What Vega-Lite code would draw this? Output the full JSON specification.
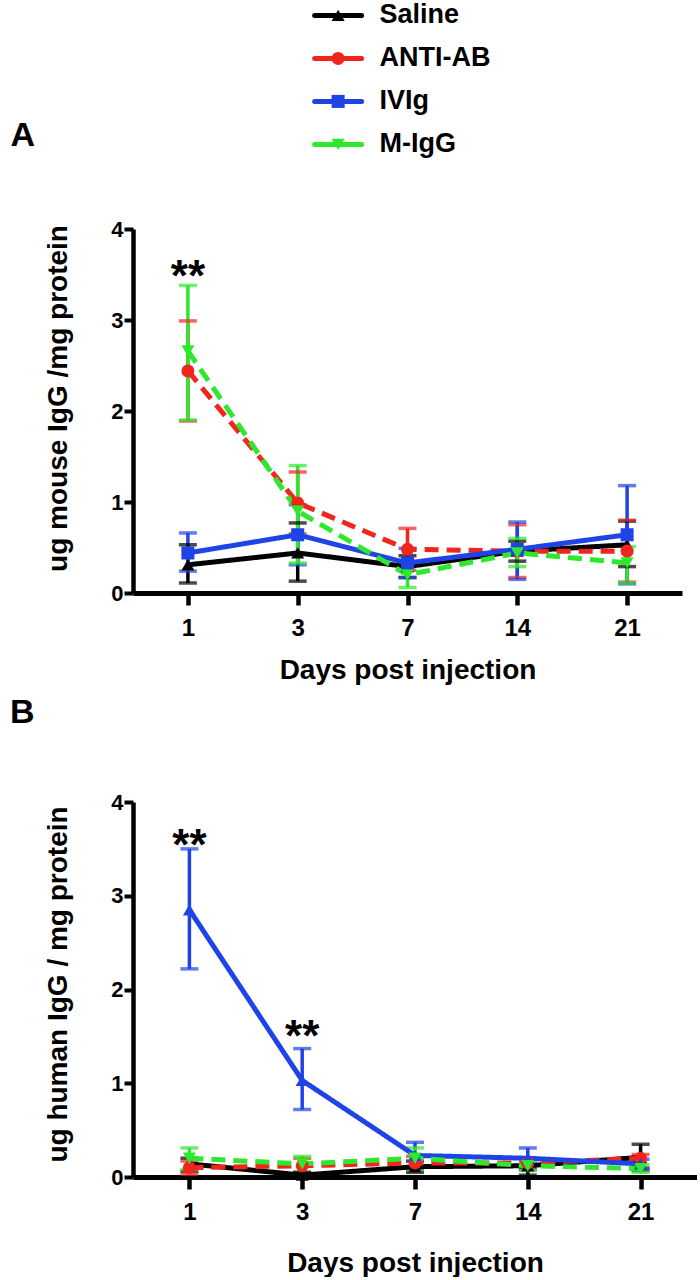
{
  "$schema": "https://vega.github.io/schema/vega-lite/v6.json",
  "padding": {"left": 10, "top": 0, "right": 0, "bottom": 0},
  "spacing": 12,
  "background": "white",
  "datasets": {
    "leg": [
      {"series": "Saline"}, {"series": "ANTI-AB"}, {"series": "IVIg"}, {"series": "M-IgG"}
    ],
    "a": [
      {"day": 1, "series": "Saline", "mean": 0.31, "lo": 0.11, "hi": 0.53},
      {"day": 3, "series": "Saline", "mean": 0.44, "lo": 0.13, "hi": 0.77},
      {"day": 7, "series": "Saline", "mean": 0.29, "lo": 0.17, "hi": 0.41},
      {"day": 14, "series": "Saline", "mean": 0.46, "lo": 0.35, "hi": 0.57},
      {"day": 21, "series": "Saline", "mean": 0.53, "lo": 0.29, "hi": 0.79},
      {"day": 1, "series": "ANTI-AB", "mean": 2.44, "lo": 1.89, "hi": 2.99},
      {"day": 3, "series": "ANTI-AB", "mean": 0.99, "lo": 0.65, "hi": 1.33},
      {"day": 7, "series": "ANTI-AB", "mean": 0.48, "lo": 0.25, "hi": 0.71},
      {"day": 14, "series": "ANTI-AB", "mean": 0.46, "lo": 0.17, "hi": 0.75},
      {"day": 21, "series": "ANTI-AB", "mean": 0.46, "lo": 0.12, "hi": 0.8},
      {"day": 1, "series": "IVIg", "mean": 0.44, "lo": 0.24, "hi": 0.66},
      {"day": 3, "series": "IVIg", "mean": 0.64, "lo": 0.31, "hi": 0.97},
      {"day": 7, "series": "IVIg", "mean": 0.33, "lo": 0.17, "hi": 0.49},
      {"day": 14, "series": "IVIg", "mean": 0.48, "lo": 0.15, "hi": 0.78},
      {"day": 21, "series": "IVIg", "mean": 0.64, "lo": 0.1, "hi": 1.18},
      {"day": 1, "series": "M-IgG", "mean": 2.66, "lo": 1.9, "hi": 3.38},
      {"day": 3, "series": "M-IgG", "mean": 0.9, "lo": 0.33, "hi": 1.4},
      {"day": 7, "series": "M-IgG", "mean": 0.2, "lo": 0.06, "hi": 0.35},
      {"day": 14, "series": "M-IgG", "mean": 0.44, "lo": 0.29, "hi": 0.6},
      {"day": 21, "series": "M-IgG", "mean": 0.33, "lo": 0.11, "hi": 0.51}
    ],
    "b": [
      {"day": 1, "series": "Saline", "mean": 0.14, "lo": 0.06, "hi": 0.2},
      {"day": 3, "series": "Saline", "mean": 0.02, "lo": 0.0, "hi": 0.05},
      {"day": 7, "series": "Saline", "mean": 0.11, "lo": 0.05, "hi": 0.17},
      {"day": 14, "series": "Saline", "mean": 0.12, "lo": 0.02, "hi": 0.2},
      {"day": 21, "series": "Saline", "mean": 0.21, "lo": 0.07, "hi": 0.35},
      {"day": 1, "series": "ANTI-AB", "mean": 0.1, "lo": 0.03, "hi": 0.17},
      {"day": 3, "series": "ANTI-AB", "mean": 0.12, "lo": 0.04, "hi": 0.2},
      {"day": 7, "series": "ANTI-AB", "mean": 0.15, "lo": 0.08, "hi": 0.22},
      {"day": 14, "series": "ANTI-AB", "mean": 0.15, "lo": 0.08, "hi": 0.2},
      {"day": 21, "series": "ANTI-AB", "mean": 0.2, "lo": 0.1, "hi": 0.24},
      {"day": 1, "series": "IVIg", "mean": 2.85, "lo": 2.22, "hi": 3.5},
      {"day": 3, "series": "IVIg", "mean": 1.03, "lo": 0.72, "hi": 1.37},
      {"day": 7, "series": "IVIg", "mean": 0.23, "lo": 0.09, "hi": 0.37},
      {"day": 14, "series": "IVIg", "mean": 0.2, "lo": 0.09, "hi": 0.31},
      {"day": 21, "series": "IVIg", "mean": 0.14, "lo": 0.09, "hi": 0.19},
      {"day": 1, "series": "M-IgG", "mean": 0.2, "lo": 0.08, "hi": 0.31},
      {"day": 3, "series": "M-IgG", "mean": 0.14, "lo": 0.05, "hi": 0.22},
      {"day": 7, "series": "M-IgG", "mean": 0.2, "lo": 0.08, "hi": 0.31},
      {"day": 14, "series": "M-IgG", "mean": 0.12, "lo": 0.07, "hi": 0.17},
      {"day": 21, "series": "M-IgG", "mean": 0.09, "lo": 0.05, "hi": 0.13}
    ],
    "starsA": [{"day": 1, "value": 3.32, "label": "**"}],
    "starsB": [{"day": 1, "value": 3.38, "label": "**"}, {"day": 3, "value": 1.34, "label": "**"}]
  },
  "resolve": {"scale": {"x": "independent", "y": "independent", "shape": "independent"}},
  "vconcat": [
    {
      "width": 549,
      "height": 206,
      "data": {"name": "leg"},
      "encoding": {
        "y": {
          "field": "series", "type": "nominal", "sort": null,
          "scale": {"type": "point", "padding": 0.895, "align": 0.2},
          "axis": {
            "title": "A", "domain": false, "ticks": false, "labels": false,
            "titleAngle": 0, "titleX": -123, "titleY": 145, "titleAlign": "left",
            "titleBaseline": "alphabetic", "titleFontSize": 34, "titleAnchor": null
          }
        }
      },
      "layer": [
        {
          "mark": {"type": "rule", "strokeWidth": 5, "strokeCap": "round"},
          "encoding": {
            "x": {"datum": 182, "type": "quantitative", "scale": {"domain": [0, 549]}, "axis": null},
            "x2": {"datum": 229},
            "color": {"field": "series", "type": "nominal", "scale": {"domain": ["Saline", "ANTI-AB", "IVIg", "M-IgG"], "range": ["#000000", "#f0261e", "#1f44e6", "#2de82d"]}}
          }
        },
        {
          "mark": {"type": "point", "filled": true, "opacity": 1, "size": 170},
          "encoding": {
            "x": {"datum": 205.5, "type": "quantitative"},
            "color": {"field": "series", "type": "nominal"},
            "shape": {"field": "series", "type": "nominal", "scale": {"domain": ["Saline", "ANTI-AB", "IVIg", "M-IgG"], "range": ["triangle-up", "circle", "square", "triangle-down"]}}
          }
        },
        {
          "mark": {"type": "text", "align": "left", "baseline": "middle", "fontSize": 27, "fontWeight": "bold", "color": "black"},
          "encoding": {
            "x": {"datum": 247, "type": "quantitative"},
            "text": {"field": "series"}
          }
        }
      ]
    },
    {
      "width": 549,
      "height": 364,
      "data": {"name": "a"},
      "encoding": {
        "x": {"field": "day", "type": "ordinal", "scale": {"type": "point", "padding": 0.5}, "axis": {"title": "Days post injection"}}
      },
      "layer": [
        {
          "mark": {"type": "rule", "strokeWidth": 3.5},
          "encoding": {
            "y": {"field": "lo", "type": "quantitative", "scale": {"domain": [0, 4]}, "axis": {"title": "ug mouse IgG /mg protein", "titleY": 169, "values": [0, 1, 2, 3, 4]}},
            "y2": {"field": "hi"},
            "color": {"field": "series", "type": "nominal"}
          }
        },
        {
          "mark": {"type": "tick", "thickness": 3.5, "size": 18},
          "encoding": {
            "y": {"field": "lo", "type": "quantitative", "axis": {"title": "ug mouse IgG /mg protein", "titleY": 169, "values": [0, 1, 2, 3, 4]}},
            "color": {"field": "series", "type": "nominal"}
          }
        },
        {
          "mark": {"type": "tick", "thickness": 3.5, "size": 18},
          "encoding": {
            "y": {"field": "hi", "type": "quantitative", "axis": {"title": "ug mouse IgG /mg protein", "titleY": 169, "values": [0, 1, 2, 3, 4]}},
            "color": {"field": "series", "type": "nominal"}
          }
        },
        {
          "mark": {"type": "line", "strokeWidth": 5},
          "encoding": {
            "y": {"field": "mean", "type": "quantitative", "axis": {"title": "ug mouse IgG /mg protein", "titleY": 169, "values": [0, 1, 2, 3, 4]}},
            "color": {"field": "series", "type": "nominal"},
            "strokeDash": {"field": "series", "type": "nominal", "scale": {"domain": ["Saline", "ANTI-AB", "IVIg", "M-IgG"], "range": [[1, 0], [14, 8], [1, 0], [14, 8]]}}
          }
        },
        {
          "mark": {"type": "point", "filled": true, "opacity": 1, "size": 170},
          "encoding": {
            "y": {"field": "mean", "type": "quantitative", "axis": {"title": "ug mouse IgG /mg protein", "titleY": 169, "values": [0, 1, 2, 3, 4]}},
            "color": {"field": "series", "type": "nominal"},
            "shape": {"field": "series", "type": "nominal", "scale": {"domain": ["Saline", "ANTI-AB", "IVIg", "M-IgG"], "range": ["triangle-up", "circle", "square", "triangle-down"]}}
          }
        },
        {
          "data": {"name": "starsA"},
          "mark": {"type": "text", "baseline": "alphabetic", "align": "center", "fontSize": 44, "fontWeight": "bold", "color": "black"},
          "encoding": {
            "y": {"field": "value", "type": "quantitative", "axis": {"title": "ug mouse IgG /mg protein", "titleY": 169, "values": [0, 1, 2, 3, 4]}},
            "text": {"field": "label"}
          }
        }
      ]
    },
    {
      "width": 564,
      "height": 375,
      "title": {"text": "B", "anchor": "start", "frame": "group", "dx": -123, "fontSize": 34, "fontWeight": "bold", "baseline": "alphabetic", "offset": 34, "color": "black"},
      "data": {"name": "b"},
      "encoding": {
        "x": {"field": "day", "type": "ordinal", "scale": {"type": "point", "padding": 0.5}, "axis": {"title": "Days post injection", "titlePadding": 25}}
      },
      "layer": [
        {
          "mark": {"type": "rule", "strokeWidth": 3.5},
          "encoding": {
            "y": {"field": "lo", "type": "quantitative", "scale": {"domain": [0, 4]}, "axis": {"title": "ug human IgG / mg protein", "titleY": 182, "values": [0, 1, 2, 3, 4]}},
            "y2": {"field": "hi"},
            "color": {"field": "series", "type": "nominal"}
          }
        },
        {
          "mark": {"type": "tick", "thickness": 3.5, "size": 18},
          "encoding": {
            "y": {"field": "lo", "type": "quantitative", "axis": {"title": "ug human IgG / mg protein", "titleY": 182, "values": [0, 1, 2, 3, 4]}},
            "color": {"field": "series", "type": "nominal"}
          }
        },
        {
          "mark": {"type": "tick", "thickness": 3.5, "size": 18},
          "encoding": {
            "y": {"field": "hi", "type": "quantitative", "axis": {"title": "ug human IgG / mg protein", "titleY": 182, "values": [0, 1, 2, 3, 4]}},
            "color": {"field": "series", "type": "nominal"}
          }
        },
        {
          "mark": {"type": "line", "strokeWidth": 5},
          "encoding": {
            "y": {"field": "mean", "type": "quantitative", "axis": {"title": "ug human IgG / mg protein", "titleY": 182, "values": [0, 1, 2, 3, 4]}},
            "color": {"field": "series", "type": "nominal"},
            "strokeDash": {"field": "series", "type": "nominal", "scale": {"domain": ["Saline", "ANTI-AB", "IVIg", "M-IgG"], "range": [[1, 0], [14, 8], [1, 0], [14, 8]]}}
          }
        },
        {
          "mark": {"type": "point", "filled": true, "opacity": 1, "size": 170},
          "encoding": {
            "y": {"field": "mean", "type": "quantitative", "axis": {"title": "ug human IgG / mg protein", "titleY": 182, "values": [0, 1, 2, 3, 4]}},
            "color": {"field": "series", "type": "nominal"},
            "shape": {"field": "series", "type": "nominal", "scale": {"domain": ["Saline", "ANTI-AB", "IVIg", "M-IgG"], "range": ["triangle-up", "circle", "triangle-up", "triangle-down"]}}
          }
        },
        {
          "data": {"name": "starsB"},
          "mark": {"type": "text", "baseline": "alphabetic", "align": "center", "fontSize": 44, "fontWeight": "bold", "color": "black"},
          "encoding": {
            "y": {"field": "value", "type": "quantitative", "axis": {"title": "ug human IgG / mg protein", "titleY": 182, "values": [0, 1, 2, 3, 4]}},
            "text": {"field": "label"}
          }
        }
      ]
    }
  ],
  "config": {
    "font": "Liberation Sans",
    "view": {"stroke": null},
    "legend": {"disable": true},
    "axis": {"grid": false, "domainColor": "black", "tickColor": "black", "labelColor": "black", "titleColor": "black", "labelFont": "Liberation Sans", "titleFont": "Liberation Sans", "labelFontWeight": "bold", "titleFontWeight": "bold"},
    "axisX": {"domainWidth": 5, "tickWidth": 4.5, "tickSize": 12, "labelFontSize": 24, "labelPadding": 11, "labelAngle": 0, "titleFontSize": 28, "titlePadding": 16},
    "axisY": {"domainWidth": 4.5, "tickWidth": 4, "tickSize": 9, "labelFontSize": 22, "labelPadding": 1, "titleFontSize": 28, "titlePadding": 38},
    "title": {"font": "Liberation Sans"}
  }
}
